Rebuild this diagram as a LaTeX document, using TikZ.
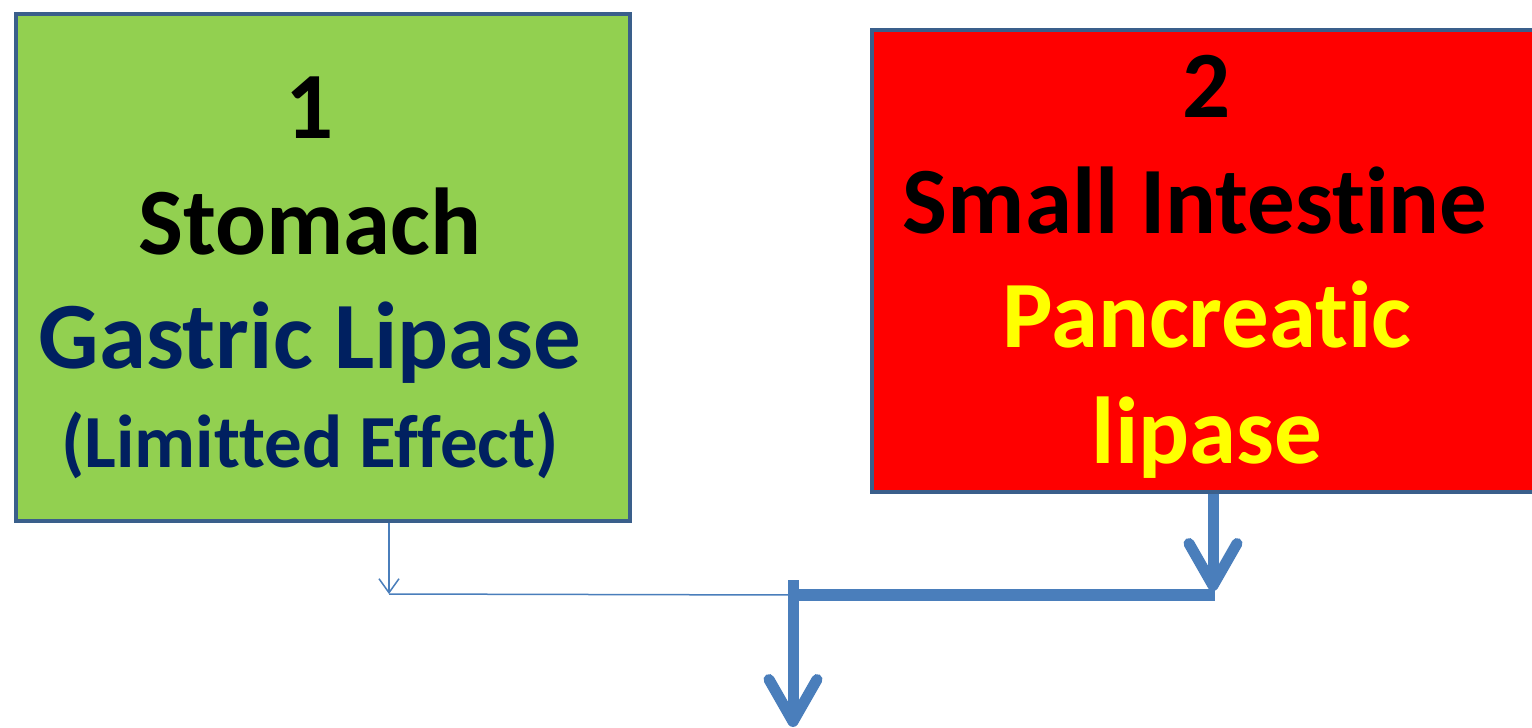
\documentclass[tikz,border=0pt]{standalone}
\usepackage{fontspec}
\setmainfont{Carlito}[Ligatures=NoCommon]
\usetikzlibrary{arrows.meta,positioning}

\definecolor{stomachgreen}{HTML}{92D050}
\definecolor{intestinered}{HTML}{FF0000}
\definecolor{outlineblue}{HTML}{3A5F8B}
\definecolor{flowblue}{HTML}{4A7EBB}
\definecolor{enzymenavy}{HTML}{002060}
\definecolor{enzymeyellow}{HTML}{FFFF00}

\tikzset{
		organ/.style     = {shape=rectangle, draw=outlineblue, line width=2pt,
				inner sep=0pt, anchor=north west},
		bigtext/.style   = {anchor=base, inner sep=0pt,
				font=\fontsize{47.5}{56}\selectfont\bfseries},
		smalltext/.style = {bigtext, font=\fontsize{37.5}{45}\selectfont\bfseries},
		thinflow/.style  = {draw=flowblue, line width=0.75pt,
				-{Straight Barb[length=7pt, width=10pt]}},
		thickflow/.style = {draw=flowblue, line width=5.5pt,
				-{Straight Barb[length=21pt, width=24pt, round]}},
		thickbar/.style  = {draw=flowblue, line width=6pt}
	}

\begin{document}
\begin{tikzpicture}[x=0.5pt, y=-0.5pt]
		\useasboundingbox (0,0) rectangle (1532,728);

		% the two boxes
		\node[organ, fill=stomachgreen, minimum width=307pt, minimum height=253.5pt]
			(stomach) at (14,12) {};
		\node[organ, fill=intestinered, minimum width=339pt, minimum height=231pt]
			(intestine) at (870,28) {};

		% texts
		\node[bigtext] (numone) at (310,138) {1};
		\node[bigtext] (stomachname) at (310,254) {Stomach};
		\node[bigtext, text=enzymenavy] (gastric) at (310,368) {Gastric Lipase};
		\node[smalltext, text=enzymenavy] (limited) at (310,467) {(Limitted Effect)};

		\node[bigtext] (numtwo) at (1207,117) {2};
		\node[bigtext] (intestinename) at (1195,233) {Small Intestine};
		\node[bigtext, text=enzymeyellow] (pancreatic) at (1207,347) {Pancreatic};
		\node[bigtext, text=enzymeyellow] (lipase) at (1207,463) {lipase};

		% joins
		\coordinate (joinL) at (389,594);
		\coordinate (joinM) at (793,595);
		\coordinate (joinR) at (1215,595);
		\coordinate (joinRtip) at (1213,591);
		\coordinate (split) at (793,580);
		\coordinate (result) at (793,727);

		\draw[thinflow] (stomach.south -| joinL) -- (joinL);
		\draw[draw=flowblue, line width=0.75pt] (joinL) -- (joinM);
		\draw[thickbar] (joinM) -- (joinR);
		\draw[thickflow] (intestine.south -| joinRtip) -- (joinRtip);
		\draw[thickflow] (split) -- (result);
	\end{tikzpicture}
\end{document}
